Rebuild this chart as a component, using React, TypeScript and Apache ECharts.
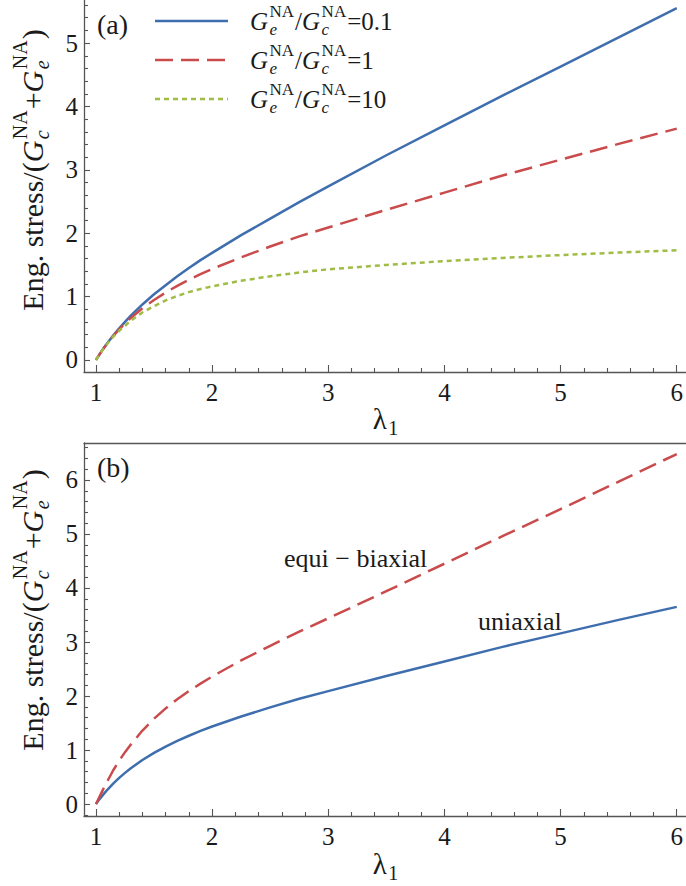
import React, { useEffect, useRef } from 'react';
import * as echarts from 'echarts';

// Stretch ratio λ1 at which the curves are sampled
const lambda = [1, 1.025, 1.05, 1.075, 1.1, 1.15, 1.2, 1.25, 1.3, 1.4, 1.5, 1.6, 1.7, 1.8, 1.9, 2, 2.25, 2.5, 2.75, 3, 3.5, 4, 4.5, 5, 5.5, 6];

// (a) uniaxial stress for three modulus ratios G_e/G_c
const uniRatio01 = [0, 0.073, 0.143, 0.209, 0.272, 0.39, 0.5, 0.6, 0.7, 0.876, 1.036, 1.18, 1.32, 1.45, 1.575, 1.69, 1.97, 2.23, 2.49, 2.74, 3.23, 3.7, 4.17, 4.63, 5.09, 5.55];
const uniRatio1 = [0, 0.073, 0.141, 0.206, 0.268, 0.381, 0.484, 0.577, 0.663, 0.815, 0.947, 1.064, 1.169, 1.264, 1.353, 1.436, 1.62, 1.79, 1.95, 2.09, 2.37, 2.64, 2.91, 3.16, 3.41, 3.65];
const uniRatio10 = [0, 0.072, 0.14, 0.2, 0.26, 0.37, 0.46, 0.54, 0.62, 0.75, 0.85, 0.94, 1.01, 1.07, 1.12, 1.16, 1.25, 1.32, 1.38, 1.43, 1.5, 1.56, 1.61, 1.655, 1.695, 1.73];

// (b) equal moduli: uniaxial vs equi-biaxial
const uniaxial = uniRatio1;
const equiBiaxial = [0, 0.11, 0.22, 0.33, 0.43, 0.63, 0.8, 0.96, 1.1, 1.36, 1.58, 1.77, 1.94, 2.09, 2.23, 2.36, 2.66, 2.93, 3.19, 3.44, 3.94, 4.45, 4.96, 5.46, 5.97, 6.48];

// Tick values
const xMajor = [1, 2, 3, 4, 5, 6];
const xMinor = [1.2, 1.4, 1.6, 1.8, 2.2, 2.4, 2.6, 2.8, 3.2, 3.4, 3.6, 3.8, 4.2, 4.4, 4.6, 4.8, 5.2, 5.4, 5.6, 5.8];
const yMajorA = [0, 1, 2, 3, 4, 5];
const yMinorA = [0.2, 0.4, 0.6, 0.8, 1.2, 1.4, 1.6, 1.8, 2.2, 2.4, 2.6, 2.8, 3.2, 3.4, 3.6, 3.8, 4.2, 4.4, 4.6, 4.8, 5.2, 5.4, 5.6];
const yMajorB = [0, 1, 2, 3, 4, 5, 6];
const yMinorB = [-0.2, 0.2, 0.4, 0.6, 0.8, 1.2, 1.4, 1.6, 1.8, 2.2, 2.4, 2.6, 2.8, 3.2, 3.4, 3.6, 3.8, 4.2, 4.4, 4.6, 4.8, 5.2, 5.4, 5.6, 5.8, 6.2, 6.4, 6.6];

const legendValues = ['=0.1', '=1', '=10'];
const panelTags = ['(a)', '(b)'];
const curveNames = ['equi \u2212 biaxial', 'uniaxial'];

const BLUE = '#3f6eae';
const RED = '#c94b4b';
const GREEN = '#9fbd45';
const INK = '#1a1a1a';
const AXIS = '#555555';
const SERIF = 'Liberation Serif';

const pairs = (ys: number[]) => lambda.map((l, i) => [l, ys[i]]);

let ctx: CanvasRenderingContext2D | null = null;
function measure(text: string, size: number, italic = false) {
  if (!ctx) ctx = document.createElement('canvas').getContext('2d');
  if (!ctx) return text.length * size * 0.5;
  ctx.font = `${italic ? 'italic ' : ''}${size}px "${SERIF}"`;
  return ctx.measureText(text).width;
}

type Piece =
  | { kind: 'txt'; text: string; italic?: boolean }
  | { kind: 'scr'; base: string; baseItalic?: boolean; sup?: string; sub?: string; subItalic?: boolean };

function textEl(text: string, x: number, y: number, size: number, italic = false) {
  return {
    type: 'text',
    x,
    y,
    style: {
      text,
      fontSize: size,
      fontFamily: SERIF,
      fontStyle: italic ? 'italic' : 'normal',
      fill: INK,
      align: 'left',
      verticalAlign: 'middle',
    },
  };
}

// Lays out a row of text with stacked super/subscripts, left edge at x = 0
function mathRow(pieces: Piece[], size: number) {
  const ss = Math.round(size * 0.68);
  let x = 0;
  const els: any[] = [];
  for (const p of pieces) {
    if (p.kind === 'txt') {
      els.push(textEl(p.text, x, 0, size, !!p.italic));
      x += measure(p.text, size, !!p.italic);
    } else {
      els.push(textEl(p.base, x, 0, size, !!p.baseItalic));
      x += measure(p.base, size, !!p.baseItalic) + 1.5;
      let w = 0;
      if (p.sup) {
        els.push(textEl(p.sup, x, -0.4 * size, ss, false));
        w = Math.max(w, measure(p.sup, ss));
      }
      if (p.sub) {
        els.push(textEl(p.sub, x, 0.32 * size, ss, !!p.subItalic));
        w = Math.max(w, measure(p.sub, ss, !!p.subItalic));
      }
      x += w + 1;
    }
  }
  return { els, width: x };
}

const G = (sub: string): Piece => ({ kind: 'scr', base: 'G', baseItalic: true, sup: 'NA', sub, subItalic: true });

function centered(pieces: Piece[], size: number, x: number, y: number, rotation = 0) {
  const row = mathRow(pieces, size);
  return {
    type: 'group',
    x,
    y,
    rotation,
    children: row.els.map((e) => ({ ...e, x: e.x - row.width / 2 })),
  };
}

function xAxes(gridIndex: number) {
  const common = { type: 'value', gridIndex, min: 0.897, max: 6.077, splitLine: { show: false } };
  return [
    {
      ...common,
      position: 'bottom',
      axisLine: { show: true, onZero: false, lineStyle: { color: AXIS, width: 1.3 } },
      axisTick: { show: true, inside: true, length: 7, customValues: xMajor, lineStyle: { color: AXIS, width: 1.1 } },
      axisLabel: {
        show: true,
        customValues: xMajor,
        margin: 8,
        fontSize: 25,
        fontFamily: SERIF,
        color: INK,
        showMinLabel: true,
        showMaxLabel: true,
      },
    },
    {
      ...common,
      position: 'bottom',
      axisLine: { show: false, onZero: false },
      axisTick: { show: true, inside: true, length: 4, customValues: xMinor, lineStyle: { color: AXIS, width: 1.1 } },
      axisLabel: { show: false },
    },
  ];
}

function yAxes(gridIndex: number, min: number, max: number, major: number[], minor: number[]) {
  const common = { type: 'value', gridIndex, min, max, position: 'left', splitLine: { show: false } };
  return [
    {
      ...common,
      axisLine: { show: true, onZero: false, lineStyle: { color: AXIS, width: 1.3 } },
      axisTick: { show: true, inside: true, length: 6, customValues: major, lineStyle: { color: AXIS, width: 1.1 } },
      axisLabel: {
        show: true,
        customValues: major,
        margin: 6,
        fontSize: 25,
        fontFamily: SERIF,
        color: INK,
        showMinLabel: true,
        showMaxLabel: true,
      },
    },
    {
      ...common,
      axisLine: { show: false, onZero: false },
      axisTick: { show: true, inside: true, length: 4, customValues: minor, lineStyle: { color: AXIS, width: 1.1 } },
      axisLabel: { show: false },
    },
  ];
}

function lineSeries(name: string, data: number[][], xi: number, yi: number, color: string, dash: any, z: number) {
  return {
    name,
    type: 'line',
    xAxisIndex: xi,
    yAxisIndex: yi,
    data,
    smooth: false,
    showSymbol: false,
    symbol: 'none',
    z,
    lineStyle: { color, width: 2.5, type: dash, cap: 'butt', join: 'round' },
  };
}

export default function App() {
  const ref = useRef<HTMLDivElement>(null);

  useEffect(() => {
    if (!ref.current) return;
    const chart = echarts.init(ref.current, null, { renderer: 'svg' });

    const yTitle: Piece[] = [
      { kind: 'txt', text: 'Eng. stress/(' },
      G('c'),
      { kind: 'txt', text: '+' },
      G('e'),
      { kind: 'txt', text: ')' },
    ];
    const lam: Piece[] = [{ kind: 'scr', base: '\u03bb', sub: '1' }];

    const legendColors = [BLUE, RED, GREEN];
    const legendDash: any[] = [null, [18, 8], [5, 4]];
    const legendY = [21, 60, 99];

    const legendEls: any[] = [];
    legendValues.forEach((v, i) => {
      legendEls.push({
        type: 'line',
        shape: { x1: 155, y1: legendY[i], x2: 228, y2: legendY[i] },
        style: { stroke: legendColors[i], lineWidth: 2.5, lineDash: legendDash[i] || undefined },
      });
      const row = mathRow([G('e'), { kind: 'txt', text: '/' }, G('c'), { kind: 'txt', text: v }], 25);
      legendEls.push({ type: 'group', x: 250, y: legendY[i], children: row.els });
    });

    const option: any = {
      animation: false,
      backgroundColor: '#ffffff',
      grid: [
        { left: 84, top: 0, width: 602, height: 372 },
        { left: 84, top: 443, width: 602, height: 373 },
      ],
      xAxis: [
        ...xAxes(0),
        ...xAxes(1),
        {
          type: 'value',
          gridIndex: 1,
          min: 0.897,
          max: 6.077,
          position: 'top',
          axisLine: { show: true, onZero: false, lineStyle: { color: AXIS, width: 1.3 } },
          axisTick: { show: false },
          axisLabel: { show: false },
          splitLine: { show: false },
        },
      ],
      yAxis: [...yAxes(0, -0.19, 5.68, yMajorA, yMinorA), ...yAxes(1, -0.222, 6.685, yMajorB, yMinorB)],
      series: [
        lineSeries('G_e/G_c=0.1', pairs(uniRatio01), 0, 0, BLUE, 'solid', 2),
        lineSeries('G_e/G_c=1', pairs(uniRatio1), 0, 0, RED, [18, 8], 3),
        lineSeries('G_e/G_c=10', pairs(uniRatio10), 0, 0, GREEN, [5, 4], 4),
        lineSeries('uniaxial', pairs(uniaxial), 2, 2, BLUE, 'solid', 2),
        lineSeries('equi-biaxial', pairs(equiBiaxial), 2, 2, RED, [18, 8], 3),
      ],
      graphic: [
        textEl(panelTags[0], 97, 24, 28),
        textEl(panelTags[1], 97, 467, 28),
        ...legendEls,
        centered(yTitle, 30, 32, 170, Math.PI / 2),
        centered(yTitle, 30, 32, 610, Math.PI / 2),
        centered(lam, 29, 386, 419),
        centered(lam, 29, 386, 864),
        textEl(curveNames[0], 284, 558, 26),
        textEl(curveNames[1], 478, 621, 26),
      ],
    };

    chart.setOption(option);
    return () => chart.dispose();
  }, []);

  return (
    <div
      ref={ref}
      style={{ position: 'absolute', left: 0, top: 0, width: 686, height: 886, background: '#ffffff' }}
    />
  );
}
